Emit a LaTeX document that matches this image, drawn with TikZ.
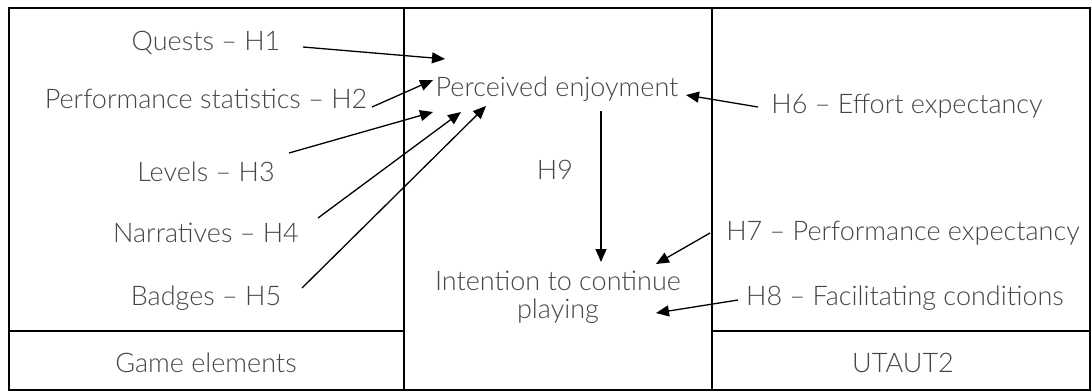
\documentclass[tikz,border=0pt]{standalone}
\usepackage{fontspec}
\IfFontExistsTF{Lato Light}{\setmainfont{Lato Light}}{\setmainfont{Lato}}
\usetikzlibrary{arrows.meta}
\definecolor{txt}{HTML}{454545}
\begin{document}
\begin{tikzpicture}[x=1pt,y=-1pt,
  lbl/.style={text=txt,font=\fontsize{27}{28}\selectfont,inner sep=0pt,align=center},
  frame/.style={line width=2pt},
  conn/.style={line width=1.3pt,-{Triangle[length=13pt,width=11pt]}}]
\useasboundingbox (0,0) rectangle (1092,391);
% table frame
\draw[frame] (9,8) rectangle (1090,390);
\draw[frame] (404,8) -- (404,390);
\draw[frame] (712,8) -- (712,390);
\draw[frame] (9,331) -- (404,331);
\draw[frame] (712,331) -- (1090,331);
% left column
\node[lbl] (h1) at (206,43) {Quests – H1};
\node[lbl] (h2) at (206,99) {Performance statistics – H2};
\node[lbl] (h3) at (206,172) {Levels – H3};
\node[lbl] (h4) at (206,233) {Narratives – H4};
\node[lbl] (h5) at (206,298) {Badges – H5};
\node[lbl] (ge) at (206,363) {Game elements};
% middle
\node[lbl] (pe) at (557,89) {Perceived enjoyment};
\node[lbl] (h9) at (555,170) {H9};
\node[lbl] (ic) at (558,297) {Intention to continue\\playing};
% right
\node[lbl] (h6) at (907,106) {H6 – Effort expectancy};
\node[lbl] (h7) at (903,233) {H7 – Performance expectancy};
\node[lbl] (h8) at (905,298) {H8 – Facilitating conditions};
\node[lbl] (ut) at (903,363) {UTAUT2};
% connector end points
\coordinate (s1) at (303,47);  \coordinate (t1) at (445,59);
\coordinate (s2) at (372,107); \coordinate (t2) at (433,80);
\coordinate (s3) at (289,153); \coordinate (t3) at (433,112);
\coordinate (s4) at (318,218); \coordinate (t4) at (461,112);
\coordinate (s5) at (302,288); \coordinate (t5) at (486,106);
\coordinate (s6) at (758,107); \coordinate (t6) at (686,95);
\coordinate (s9) at (601,111); \coordinate (t9) at (601,262);
\coordinate (s7) at (710,233); \coordinate (t7) at (656,264);
\coordinate (s8) at (738,300); \coordinate (t8) at (656,313);
\draw[conn] (s1) -- (t1);
\draw[conn] (s2) -- (t2);
\draw[conn] (s3) -- (t3);
\draw[conn] (s4) -- (t4);
\draw[conn] (s5) -- (t5);
\draw[conn] (s6) -- (t6);
\draw[conn] (s9) -- (t9);
\draw[conn] (s7) -- (t7);
\draw[conn] (s8) -- (t8);
\end{tikzpicture}
\end{document}
